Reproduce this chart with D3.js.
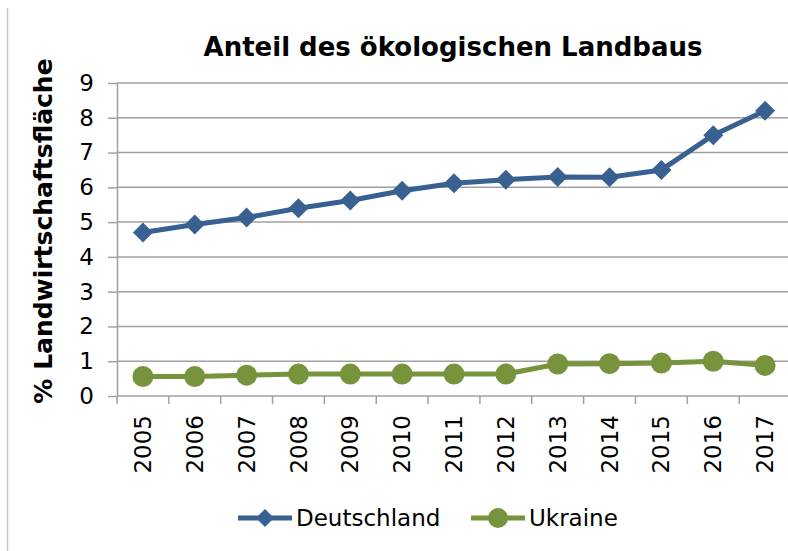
<!DOCTYPE html>
<style>
	body { margin: 0; background: #fff; }
	svg { font-family: "DejaVu Sans", sans-serif; }
	.axis .domain { stroke: #a0a0a0; stroke-width: 1.5; }
	.axis line { stroke: #a0a0a0; stroke-width: 1.5; }
	.axis text { fill: #000; }
</style>
<svg width="788" height="551"></svg>
<script src="https://d3js.org/d3.v7.min.js"></script>
<script>

	var years = ["2005", "2006", "2007", "2008", "2009", "2010", "2011", "2012", "2013", "2014", "2015", "2016", "2017"];
	var deutschland = [4.7, 4.93, 5.13, 5.4, 5.62, 5.9, 6.12, 6.22, 6.3, 6.29, 6.5, 7.5, 8.2];
	var ukraine = [0.56, 0.56, 0.6, 0.63, 0.63, 0.63, 0.63, 0.63, 0.92, 0.93, 0.95, 1.0, 0.88];
	var yTicks = [0, 1, 2, 3, 4, 5, 6, 7, 8, 9];
	var seriesNames = ["Deutschland", "Ukraine"];

	var svg = d3.select("svg"),
		margin = {top: 83, right: -3, bottom: 155, left: 117},
		width = +svg.attr("width") - margin.left - margin.right,
		height = +svg.attr("height") - margin.top - margin.bottom,
		g = svg.append("g").attr("transform", "translate(" + margin.left + "," + margin.top + ")");

	var blue = "#386192", green = "#77933c";

	// chart area border (left edge only visible)
	svg.append("line")
		.attr("x1", 7.5).attr("x2", 7.5)
		.attr("y1", 8).attr("y2", 551)
		.attr("stroke", "#c8c8c8").attr("stroke-width", 1.5);

	var x = d3.scaleBand().domain(years).range([0, width]);
	var y = d3.scaleLinear().domain([0, 9]).range([height, 0]);

	// gridlines
	g.append("g")
		.selectAll("line")
		.data(yTicks.slice(1))
		.enter().append("line")
		.attr("x1", 0).attr("x2", width)
		.attr("y1", function(d) { return y(d); })
		.attr("y2", function(d) { return y(d); })
		.attr("stroke", "#a0a0a0").attr("stroke-width", 1.5);

	g.append("g")
		.attr("class", "axis")
		.style("font-size", "23px")
		.call(d3.axisLeft(y).tickValues(yTicks).tickSize(9).tickPadding(14).tickSizeOuter(0))
		.selectAll("text").attr("font-family", "DejaVu Sans");

	// x axis with ticks at category boundaries
	var xAxis = g.append("g")
		.attr("class", "axis")
		.attr("transform", "translate(0," + height + ")");
	xAxis.append("line")
		.attr("x1", 0).attr("x2", width)
		.attr("stroke", "#a0a0a0").attr("stroke-width", 1.5);
	xAxis.selectAll(".tk")
		.data(years)
		.enter().append("line")
		.attr("class", "tk")
		.attr("x1", function(d) { return x(d); })
		.attr("x2", function(d) { return x(d); })
		.attr("y1", 0).attr("y2", 8);
	xAxis.selectAll(".lbl")
		.data(years)
		.enter().append("text")
		.attr("class", "lbl")
		.attr("transform", function(d) { return "translate(" + (x(d) + x.bandwidth() / 2) + ",19) rotate(-90)"; })
		.attr("dy", "0.35em")
		.attr("text-anchor", "end")
		.style("font-size", "23px")
		.text(function(d) { return d; });

	var line = d3.line()
		.x(function(d, i) { return x(years[i]) + x.bandwidth() / 2; })
		.y(function(d) { return y(d); });

	g.append("path")
		.datum(deutschland)
		.attr("fill", "none").attr("stroke", blue).attr("stroke-width", 5)
		.attr("stroke-linejoin", "round")
		.attr("d", line);

	g.selectAll(".de")
		.data(deutschland)
		.enter().append("path")
		.attr("class", "de")
		.attr("transform", function(d, i) { return "translate(" + (x(years[i]) + x.bandwidth() / 2) + "," + y(d) + ")"; })
		.attr("d", "M0,-10L10,0L0,10L-10,0Z")
		.attr("fill", blue);

	g.append("path")
		.datum(ukraine)
		.attr("fill", "none").attr("stroke", green).attr("stroke-width", 5)
		.attr("d", line);

	g.selectAll(".ua")
		.data(ukraine)
		.enter().append("circle")
		.attr("class", "ua")
		.attr("cx", function(d, i) { return x(years[i]) + x.bandwidth() / 2; })
		.attr("cy", function(d) { return y(d); })
		.attr("r", 10.5)
		.attr("fill", green);

	// title
	svg.append("text")
		.attr("x", 453)
		.attr("y", 56)
		.attr("text-anchor", "middle")
		.style("font-size", "26px")
		.style("font-weight", "bold")
		.text("Anteil des ökologischen Landbaus");

	// y axis title
	svg.append("text")
		.attr("transform", "translate(52,231) rotate(-90)")
		.attr("text-anchor", "middle")
		.style("font-size", "25px")
		.style("font-weight", "bold")
		.text("% Landwirtschaftsfläche");

	// legend
	var legend = svg.append("g")
		.selectAll("g")
		.data(seriesNames)
		.enter().append("g")
		.attr("transform", function(d, i) { return "translate(" + (238 + i * 233) + ",518)"; });

	legend.append("line")
		.attr("x1", 0).attr("x2", 54)
		.attr("stroke", function(d, i) { return i ? green : blue; })
		.attr("stroke-width", 5);

	legend.filter(function(d, i) { return i === 0; })
		.append("path")
		.attr("d", "M27,-9L36,0L27,9L18,0Z")
		.attr("fill", blue);

	legend.filter(function(d, i) { return i === 1; })
		.append("circle")
		.attr("cx", 27).attr("r", 10)
		.attr("fill", green);

	legend.append("text")
		.attr("x", 58)
		.attr("dy", "0.35em")
		.style("font-size", "23px")
		.text(function(d) { return d; });

</script>
